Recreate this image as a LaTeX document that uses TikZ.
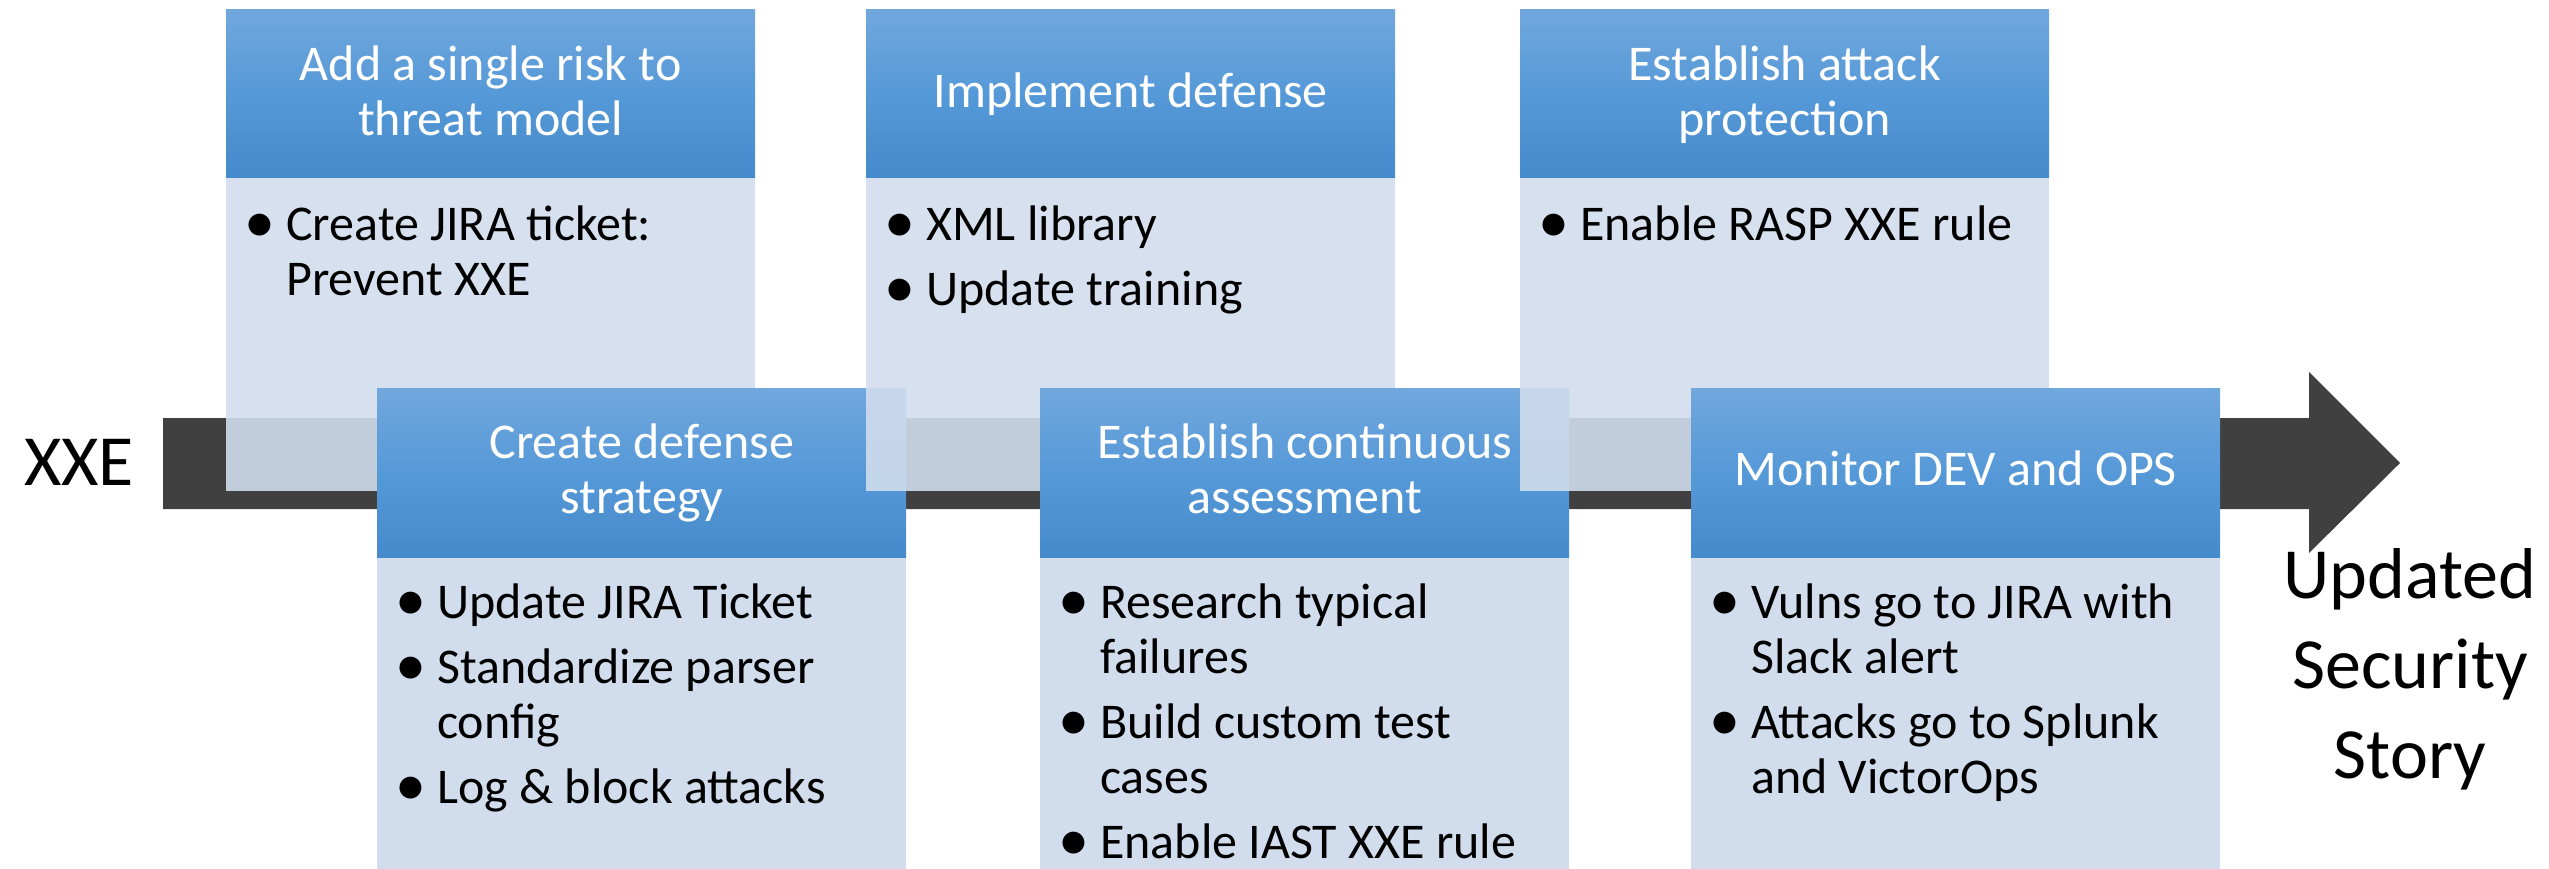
\documentclass[tikz,border=0pt]{standalone}
\usepackage{fontspec}
\setmainfont{Carlito}
\usetikzlibrary{calc}

\definecolor{hdTop}{RGB}{113,167,221}
\definecolor{hdMid}{RGB}{86,153,216}
\definecolor{hdBot}{RGB}{69,138,203}
\definecolor{bodyFill}{RGB}{209,221,237}
\definecolor{arrowGray}{RGB}{64,64,64}

% bullet and hanging indent for the card lists
\newcommand{\bul}{\makebox[35pt][l]{\hspace*{-7pt}\raisebox{-2pt}{\fontsize{62}{55}\selectfont •}}}
\newcommand{\ind}{\hspace*{35pt}}
\newcommand{\cardtext}[1]{\parbox[t]{500pt}{\raggedright\fontsize{50}{55}\selectfont #1}}
\newcommand{\headtext}[1]{\parbox[t]{529pt}{\centering\fontsize{50}{55}\selectfont #1}}

\begin{document}
\begin{tikzpicture}[x=1pt,y=-1pt,
  header/.style={rectangle, inner sep=0pt, minimum width=529pt, minimum height=168pt,
    anchor=north west, top color=hdTop, bottom color=hdBot, middle color=hdMid},
  cardbody/.style={rectangle, inner sep=0pt, minimum width=529pt, anchor=north west,
    fill=bodyFill, fill opacity=0.9},
  htext/.style={text=white, inner sep=0pt, anchor=base},
  btext/.style={text=black, inner sep=0pt, anchor=base west},
  bigtext/.style={text=black, inner sep=0pt}]

\useasboundingbox (0,0) rectangle (2549,868);

% timeline arrow
\fill[arrowGray] (163,418) -- (2309,418) -- (2309,372) -- (2400,463)
  -- (2309,553) -- (2309,509) -- (163,509) -- cycle;

\node[bigtext, anchor=base west] (xxe) at (24,485) {\fontsize{72}{86}\selectfont XXE};
\node[bigtext, anchor=base] (story) at (2410,598)
  {\parbox[t]{300pt}{\centering\fontsize{72}{90}\selectfont Updated\\Security\\Story}};

% card A (top)
\node[header] (hA) at (226,9) {};
\node[cardbody, minimum height=313pt] (bA) at (hA.south west) {};
\node[htext] (tA) at ($(hA.north)+(0,71)$) {\headtext{Add a single risk to\\threat model}};
\node[btext] (lA) at ($(bA.north west)+(25,63)$)
  {\cardtext{\bul Create JIRA ticket:\\\ind Prevent XXE}};

% card D (bottom)
\node[header, minimum height=169pt] (hD) at (377,388) {};
\node[cardbody, fill opacity=1, minimum height=313pt] (bD) at (hD.south west) {};
\node[htext] (tD) at ($(hD.north)+(0,70)$) {\headtext{Create defense\\strategy}};
\node[btext] (lD) at ($(bD.north west)+(25,61)$)
  {\cardtext{\bul Update JIRA Ticket\\[10pt]\bul Standardize parser\\\ind config\\[10pt]\bul Log \& block attacks}};

% card B (top)
\node[header] (hB) at (866,9) {};
\node[cardbody, minimum height=313pt] (bB) at (hB.south west) {};
\node[htext] (tB) at ($(hB.north)+(0,98)$) {\headtext{Implement defense}};
\node[btext] (lB) at ($(bB.north west)+(25,63)$)
  {\cardtext{\bul XML library\\[10pt]\bul Update training}};

% card E (bottom)
\node[header, minimum height=169pt] (hE) at (1040,388) {};
\node[cardbody, fill opacity=1, minimum height=313pt] (bE) at (hE.south west) {};
\node[htext] (tE) at ($(hE.north)+(0,70)$) {\headtext{Establish continuous\\assessment}};
\node[btext] (lE) at ($(bE.north west)+(25,61)$)
  {\cardtext{\bul Research typical\\\ind failures\\[10pt]\bul Build custom test\\\ind cases\\[10pt]\bul Enable IAST XXE rule}};

% card C (top)
\node[header] (hC) at (1520,9) {};
\node[cardbody, minimum height=313pt] (bC) at (hC.south west) {};
\node[htext] (tC) at ($(hC.north)+(0,71)$) {\headtext{Establish attack\\protection}};
\node[btext] (lC) at ($(bC.north west)+(25,63)$)
  {\cardtext{\bul Enable RASP XXE rule}};

% card F (bottom)
\node[header, minimum height=169pt] (hF) at (1691,388) {};
\node[cardbody, fill opacity=1, minimum height=313pt] (bF) at (hF.south west) {};
\node[htext] (tF) at ($(hF.north)+(0,97)$) {\headtext{Monitor DEV and OPS}};
\node[btext] (lF) at ($(bF.north west)+(25,61)$)
  {\cardtext{\bul Vulns go to JIRA with\\\ind Slack alert\\[10pt]\bul Attacks go to Splunk\\\ind and VictorOps}};

\end{tikzpicture}
\end{document}
